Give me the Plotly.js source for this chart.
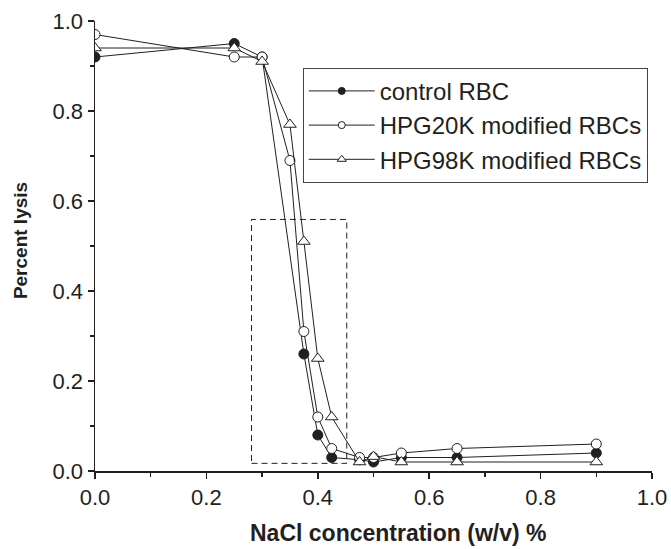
<!DOCTYPE html>
<html>
<head>
<meta charset="utf-8">
<script src="https://cdn.plot.ly/plotly-3.0.1.min.js"></script>
<style>html,body{margin:0;padding:0;background:#fff;}#chart{width:671px;height:549px;}</style>
</head>
<body>
<div id="chart"></div>
<script>
// Data
const nacl = [0.0, 0.25, 0.3, 0.35, 0.375, 0.4, 0.425, 0.475, 0.5, 0.55, 0.65, 0.9];
const controlRBC = [0.92, 0.95, 0.92, null, 0.26, 0.08, 0.03, 0.025, 0.02, 0.03, 0.03, 0.04];
const hpg20k = [0.97, 0.92, 0.92, 0.69, 0.31, 0.12, 0.05, 0.03, 0.03, 0.04, 0.05, 0.06];
const hpg98k = [0.94, 0.94, 0.91, 0.77, 0.51, 0.25, 0.12, 0.02, 0.032, 0.02, 0.02, 0.02];
const seriesNames = ['control RBC', 'HPG20K modified RBCs', 'HPG98K modified RBCs'];
const xTicks = [0, 0.2, 0.4, 0.6, 0.8, 1.0];
const yTicks = [0, 0.2, 0.4, 0.6, 0.8, 1.0];
const xTitle = 'NaCl concentration (w/v) %';
const yTitle = 'Percent lysis';
// dashed highlight box (x0, x1) and (y0, y1)
const boxX = [0.281, 0.452];
const boxY = [0.017, 0.559];

const ink = '#231f20';
const font = 'Liberation Sans, Arial, sans-serif';
const symbols = ['circle', 'circle', 'triangle-up'];
const fills = [ink, '#ffffff', '#ffffff'];
const series = [controlRBC, hpg20k, hpg98k];

const data = [];
// plotted series (no legend entry)
series.forEach((y, i) => {
  data.push({
    x: nacl, y: y, name: seriesNames[i], type: 'scatter', mode: 'lines+markers',
    connectgaps: true, showlegend: false,
    line: {color: ink, width: 1},
    marker: {symbol: symbols[i], size: symbols[i] === 'triangle-up' ? 11 : 10, color: fills[i],
             line: {color: ink, width: 1}}
  });
});
// legend entries with the smaller legend glyphs
series.forEach((y, i) => {
  data.push({
    x: [null], y: [null], name: seriesNames[i], type: 'scatter', mode: 'lines+markers',
    showlegend: true,
    line: {color: ink, width: 1},
    marker: {symbol: symbols[i], size: symbols[i] === 'triangle-up' ? 8 : 7, color: fills[i],
             line: {color: ink, width: 1}}
  });
});

const axisCommon = {
  showgrid: false, zeroline: false, showline: true, linecolor: ink, linewidth: 1.5,
  ticks: 'outside', ticklen: 6, tickwidth: 1.5, tickcolor: ink,
  tickfont: {family: font, size: 22, color: ink},
  tickformat: '.1f', tickmode: 'array',
  minor: {ticks: 'outside', ticklen: 4, tickwidth: 1.5, tickcolor: ink, dtick: 0.1, showgrid: false}
};

const layout = {
  width: 671, height: 549,
  margin: {l: 95, r: 19, t: 21, b: 78},
  paper_bgcolor: '#ffffff', plot_bgcolor: '#ffffff',
  showlegend: true,
  xaxis: Object.assign({}, axisCommon, {range: [0, 1.0], tickvals: xTicks}),
  yaxis: Object.assign({}, axisCommon, {range: [0, 1.0], tickvals: yTicks}),
  legend: {
    x: 0.373, y: 0.896, xanchor: 'left', yanchor: 'top',
    bgcolor: '#ffffff', bordercolor: '#444', borderwidth: 1,
    font: {family: font, size: 24, color: ink},
    itemwidth: 66, tracegroupgap: 0
  },
  annotations: [
    {text: '<b>' + xTitle + '</b>', xref: 'paper', yref: 'paper', x: 0.544, y: -0.138,
     xanchor: 'center', yanchor: 'middle', showarrow: false,
     font: {family: font, size: 23, color: ink}},
    {text: '<b>' + yTitle + '</b>', xref: 'paper', yref: 'paper', x: -0.1347, y: 0.513,
     xanchor: 'center', yanchor: 'middle', showarrow: false, textangle: -90,
     font: {family: font, size: 19, color: ink}}
  ],
  shapes: [{
    type: 'rect', xref: 'x', yref: 'y',
    x0: boxX[0], x1: boxX[1], y0: boxY[0], y1: boxY[1],
    line: {color: ink, width: 1, dash: '6px,4px'}, layer: 'below'
  }]
};

Plotly.newPlot('chart', data, layout, {displayModeBar: false, staticPlot: true});
</script>
</body>
</html>
